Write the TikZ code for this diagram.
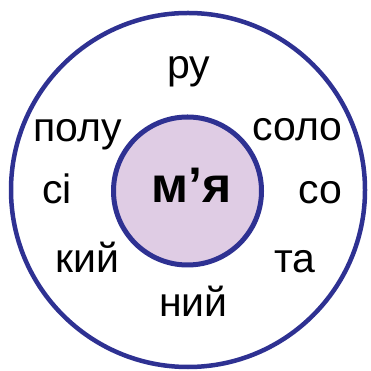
\documentclass[tikz,border=0pt]{standalone}
\usepackage{fontspec}
\setmainfont{Liberation Sans}[BoldFont={Liberation Sans Bold}]
\definecolor{ringblue}{HTML}{2E3192}
\definecolor{lav}{HTML}{DFCCE4}
\begin{document}
\begin{tikzpicture}[x=1pt,y=1pt,
  syl/.style={anchor=base,inner sep=0pt,font=\fontsize{41}{48}\selectfont},
  ring/.style={draw=ringblue,line width=4.5pt}]
\useasboundingbox (0,0) rectangle (371,371);
\node[ring,circle,minimum size=354pt,inner sep=0pt] (outer) at (188,181) {};
\node[ring,circle,fill=lav,minimum size=148pt,inner sep=0pt,line width=5pt] (inner) at (187.5,180) {};
\node[anchor=base,inner sep=0pt] (root) at (191.5,168) {\fontsize{50}{56}\selectfont\bfseries м’я};
\node[syl] (s1) at (189,292) {ру};
\node[syl] (s2) at (77.5,229) {полу};
\node[syl] (s3) at (297.5,230) {соло};
\node[syl] (s4) at (57,167) {сі};
\node[syl] (s5) at (320,167) {со};
\node[syl] (s6) at (87,98) {кий};
\node[syl] (s7) at (295,98) {та};
\node[syl] (s8) at (193.5,54) {ний};
\end{tikzpicture}
\end{document}
